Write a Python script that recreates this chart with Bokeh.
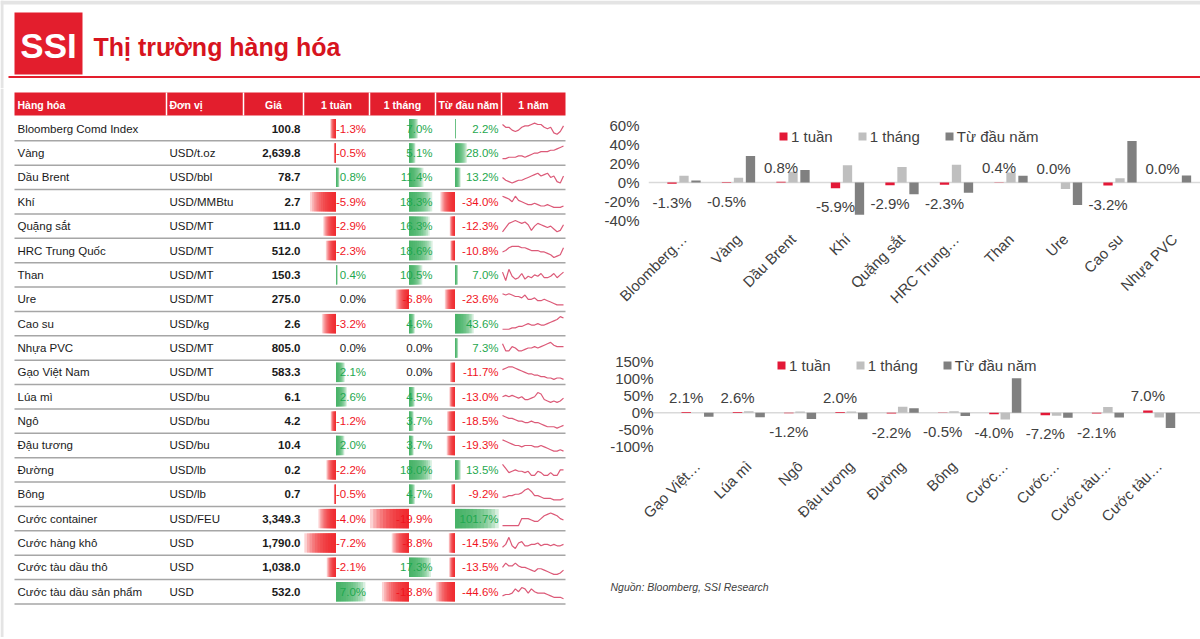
import math
from bokeh.plotting import figure
from bokeh.layouts import column, row
from bokeh.models import (Range1d, ColumnDataSource, Legend, LegendItem,
                          FixedTicker, PrintfTickFormatter, Span)
from bokeh.core.properties import value
from bokeh.embed import file_html
from bokeh.resources import INLINE

FONT = "Liberation Sans"
RED = "#E31E2D"
TITLE_RED = "#D7141E"
BAR_RED = "#F01E23"
BAR_GREEN = "#3DB061"
TXT_RED = "#F0141E"
TXT_GREEN = "#1FA84F"
TXT = "#1A1A1A"
AX_TXT = "#404040"
S_RED = "#E31837"
S_LGRAY = "#BFBFBF"
S_DGRAY = "#808080"

# ---------------- data ----------------
commodities = ["Bloomberg Comd Index", "Vàng", "Dầu Brent", "Khí", "Quặng sắt",
               "HRC Trung Quốc", "Than", "Ure", "Cao su", "Nhựa PVC",
               "Gạo Việt Nam", "Lúa mì", "Ngô", "Đậu tương", "Đường", "Bông",
               "Cước container", "Cước hàng khô", "Cước tàu dầu thô",
               "Cước tàu dầu sản phẩm"]
units = ["", "USD/t.oz", "USD/bbl", "USD/MMBtu", "USD/MT", "USD/MT", "USD/MT",
         "USD/MT", "USD/kg", "USD/MT", "USD/MT", "USD/bu", "USD/bu", "USD/bu",
         "USD/lb", "USD/lb", "USD/FEU", "USD", "USD", "USD"]
prices = [100.8, 2639.8, 78.7, 2.7, 111.0, 512.0, 150.3, 275.0, 2.6, 805.0,
          583.3, 6.1, 4.2, 10.4, 0.2, 0.7, 3349.3, 1790.0, 1038.0, 532.0]
chg_1w = [-1.3, -0.5, 0.8, -5.9, -2.9, -2.3, 0.4, 0.0, -3.2, 0.0,
          2.1, 2.6, -1.2, 2.0, -2.2, -0.5, -4.0, -7.2, -2.1, 7.0]
chg_1m = [7.0, 5.1, 11.4, 18.3, 16.3, 18.6, 10.5, -6.8, 4.6, 0.0,
          0.0, 4.5, 3.7, 3.7, 18.0, 4.7, -19.9, -8.8, 17.3, -13.8]
chg_ytd = [2.2, 28.0, 13.2, -34.0, -12.3, -10.8, 7.0, -23.6, 43.6, 7.3,
           -11.7, -13.0, -18.5, -19.3, 13.5, -9.2, 101.7, -14.5, -13.5, -44.6]

# 1-year sparklines (relative levels 0..10)
spark_bloomberg = [8, 6, 6, 4, 3, 4, 6, 7, 7, 8, 9, 8, 8, 6, 5, 6, 2, 1, 3, 7]
spark_vang = [1, 1, 2, 2, 2, 3, 3, 2, 3, 4, 5, 5, 6, 6, 6, 7, 7, 8, 9, 10]
spark_brent = [5, 3, 2, 1, 2, 3, 3, 4, 5, 6, 7, 8, 6, 7, 8, 5, 6, 2, 1, 6]
spark_khi = [9, 8, 7, 5, 9, 6, 5, 4, 3, 3, 4, 3, 2, 2, 3, 2, 1, 1, 1, 2]
spark_quang = [1, 4, 7, 8, 9, 8, 7, 8, 6, 2, 5, 7, 6, 5, 4, 5, 3, 1, 2, 6]
spark_hrc = [4, 5, 7, 8, 8, 8, 7, 7, 6, 5, 5, 5, 4, 4, 3, 2, 0, 1, 2, 7]
spark_than = [7, 1, 9, 4, 2, 3, 6, 2, 4, 3, 5, 4, 6, 3, 3, 4, 6, 3, 5, 7]
spark_ure = [9, 8, 9, 8, 7, 7, 6, 8, 5, 5, 6, 4, 4, 5, 4, 3, 2, 1, 1, 1]
spark_caosu = [1, 1, 1, 2, 2, 3, 3, 4, 5, 4, 4, 5, 4, 4, 5, 6, 7, 8, 10, 9]
spark_pvc = [8, 3, 3, 6, 5, 3, 3, 4, 5, 5, 6, 5, 6, 7, 8, 9, 7, 6, 6, 6]
spark_gao = [7, 8, 9, 9, 8, 7, 6, 5, 4, 4, 3, 3, 2, 2, 1, 1, 0, 1, 1, 0]
spark_luami = [5, 6, 5, 6, 5, 4, 5, 3, 3, 4, 5, 8, 7, 3, 2, 1, 2, 1, 2, 4]
spark_ngo = [9, 8, 7, 7, 6, 5, 5, 4, 4, 5, 4, 4, 3, 2, 1, 1, 1, 0, 1, 2]
spark_dautuong = [9, 8, 7, 6, 5, 5, 4, 5, 5, 5, 4, 4, 5, 4, 3, 2, 1, 1, 2, 1]
spark_duong = [9, 6, 3, 4, 5, 4, 4, 3, 4, 1, 1, 4, 3, 1, 1, 3, 1, 1, 5, 5]
spark_bong = [3, 3, 4, 4, 5, 5, 6, 8, 9, 7, 4, 4, 3, 2, 2, 2, 1, 1, 1, 2]
spark_container = [0, 0, 0, 0, 0, 0, 5, 5, 5, 4, 3, 3, 5, 7, 8, 9, 8, 7, 5, 4]
spark_hangkho = [2, 4, 9, 3, 1, 5, 6, 3, 3, 4, 4, 5, 3, 4, 4, 3, 4, 3, 3, 4]
spark_dautho = [5, 8, 6, 6, 8, 6, 5, 5, 4, 3, 2, 4, 4, 3, 2, 1, 0, 0, 1, 3]
spark_dausp = [2, 3, 3, 4, 7, 5, 8, 7, 4, 7, 5, 4, 4, 4, 3, 2, 1, 1, 1, 0]

header_labels = ["Hàng hóa", "Đơn vị", "Giá", "1 tuần", "1 tháng", "Từ đầu năm", "1 năm"]
series_names = ["1 tuần", "1 tháng", "Từ đầu năm"]
axis_labels_top = ["Bloomberg…", "Vàng", "Dầu Brent", "Khí", "Quặng sắt",
                   "HRC Trung…", "Than", "Ure", "Cao su", "Nhựa PVC"]
axis_labels_bottom = ["Gạo Việt…", "Lúa mì", "Ngô", "Đậu tương", "Đường", "Bông",
                      "Cước…", "Cước…", "Cước tàu…", "Cước tàu…"]
yticks_top = [-40, -20, 0, 20, 40, 60]
yticks_bottom = [-100, -50, 0, 50, 100, 150]
title_text = "Thị trường hàng hóa"
logo_text = "SSI"
source_text = "Nguồn: Bloomberg, SSI Research"

sparks = [spark_bloomberg, spark_vang, spark_brent, spark_khi, spark_quang,
          spark_hrc, spark_than, spark_ure, spark_caosu, spark_pvc, spark_gao,
          spark_luami, spark_ngo, spark_dautuong, spark_duong, spark_bong,
          spark_container, spark_hangkho, spark_dautho, spark_dausp]


def blank_fig(w, h, xr, yr):
    p = figure(width=w, height=h, x_range=Range1d(*xr), y_range=Range1d(*yr),
               output_backend="svg", toolbar_location=None,
               x_axis_location=None, y_axis_location=None, min_border=0)
    p.xgrid.visible = False
    p.ygrid.visible = False
    p.outline_line_color = None
    return p


# ---------------- header ----------------
hdr = blank_fig(1200, 88, (0, 1200), (88, 0))
hdr.quad(left=[0], right=[1200], top=[0], bottom=[4], fill_color="#E4E4E4", line_color=None)
hdr.quad(left=[0], right=[3], top=[0], bottom=[88], fill_color="#E4E4E4", line_color=None)
hdr.quad(left=[14], right=[82], top=[12], bottom=[74], fill_color=RED, line_color=None)
hdr.text(x=[48], y=[45], text=[logo_text], text_align="center", text_baseline="middle",
         text_font=value(FONT), text_font_style="bold", text_font_size="35px",
         text_color="white")
hdr.text(x=[93], y=[46], text=[title_text], text_align="left", text_baseline="middle",
         text_font=value(FONT), text_font_style="bold", text_font_size="25px",
         text_color=TITLE_RED)
hdr.segment(x0=[8], y0=[76.5], x1=[1200], y1=[76.5], line_color=RED, line_width=2)

# ---------------- table ----------------
tbl = blank_fig(578, 549, (0, 578), (637, 88))
tbl.quad(left=[0], right=[3], top=[88], bottom=[637], fill_color="#E4E4E4", line_color=None)
col_edges = [14, 166, 243, 303, 369, 435, 501, 565]
HEAD_TOP, HEAD_BOT = 92, 115
ROW_H = 24.37
n = len(commodities)
row_top = [HEAD_BOT + 1 + ROW_H * i for i in range(n)]
row_mid = [t + ROW_H / 2 for t in row_top]

tbl.quad(left=[col_edges[0]], right=[col_edges[-1]], top=[HEAD_TOP], bottom=[HEAD_BOT],
         fill_color=RED, line_color=None)
tbl.segment(x0=col_edges[1:-1], x1=col_edges[1:-1], y0=[HEAD_TOP] * 6, y1=[HEAD_BOT] * 6,
            line_color="white", line_width=1.5)
hx = [col_edges[0] + 3, col_edges[1] + 3] + [(col_edges[k] + col_edges[k + 1]) / 2 for k in range(2, 7)]
halign = ["left", "left"] + ["center"] * 5
for k in range(7):
    tbl.text(x=[hx[k]], y=[(HEAD_TOP + HEAD_BOT) / 2 + 0.5], text=[header_labels[k]],
             text_align=halign[k], text_baseline="middle", text_font=value(FONT),
             text_font_style="bold", text_font_size="10.5px", text_color="white")

# row separators
tbl.segment(x0=[col_edges[0]] * n, x1=[col_edges[-1]] * n,
            y0=[t + ROW_H for t in row_top], y1=[t + ROW_H for t in row_top],
            line_color="#A6A6A6", line_width=1.5)


def databars(vals, axis, sneg, spos, nlayer=12, a=0.2):
    # gradient data bars: stacked translucent layers, all anchored at the axis
    d = dict(left=[], right=[], top=[], bottom=[], color=[])
    for i, v in enumerate(vals):
        if v == 0:
            continue
        length = v * spos if v > 0 else v * sneg
        for k in range(1, nlayer + 1):
            end = axis + length * k / nlayer
            d["left"].append(min(axis, end))
            d["right"].append(max(axis, end))
            d["top"].append(row_top[i] + 2.5)
            d["bottom"].append(row_top[i] + ROW_H - 2.5)
            d["color"].append(BAR_GREEN if v > 0 else BAR_RED)
    return ColumnDataSource(d)


for vals, axis, sneg, spos in [(chg_1w, 335.5, 4.4, 4.2),
                               (chg_1m, 408.5, 1.96, 1.27),
                               (chg_ytd, 454.5, 0.43, 0.43)]:
    tbl.quad(left="left", right="right", top="top", bottom="bottom",
             fill_color="color", fill_alpha=0.2, line_color=None,
             source=databars(vals, axis, sneg, spos))

tsrc = ColumnDataSource(dict(y=row_mid, name=commodities, unit=units,
                             price=[f"{v:,.1f}" for v in prices]))
tbl.text(x=col_edges[0] + 3, y="y", text="name", source=tsrc, text_align="left",
         text_baseline="middle", text_font=value(FONT), text_font_size="11.5px", text_color=TXT)
tbl.text(x=col_edges[1] + 3, y="y", text="unit", source=tsrc, text_align="left",
         text_baseline="middle", text_font=value(FONT), text_font_size="11.5px", text_color=TXT)
tbl.text(x=300, y="y", text="price", source=tsrc, text_align="right",
         text_baseline="middle", text_font=value(FONT), text_font_style="bold",
         text_font_size="11.5px", text_color=TXT)


def pct_color(v):
    return TXT_GREEN if v > 0 else (TXT_RED if v < 0 else TXT)


for vals, xr_ in [(chg_1w, 365.5), (chg_1m, 432), (chg_ytd, 498)]:
    s = ColumnDataSource(dict(y=row_mid, t=[f"{v:.1f}%" for v in vals],
                              c=[pct_color(v) for v in vals]))
    tbl.text(x=xr_, y="y", text="t", text_color="c", source=s, text_align="right",
             text_baseline="middle", text_font=value(FONT), text_font_size="11.5px")

xs, ys = [], []
for i, sp in enumerate(sparks):
    m = len(sp)
    xs.append([502 + j * 61.0 / (m - 1) for j in range(m)])
    ys.append([row_mid[i] + 7 - v * 1.4 for v in sp])
tbl.multi_line(xs=xs, ys=ys, line_color="#DC5A78", line_width=1.2)

# ---------------- bar charts ----------------
COL_X = 578           # page x of the chart column
FRAME_LEFT = 70       # px inside the 622-wide chart column -> frame starts at page x 648
FX = COL_X + FRAME_LEFT


def bar_chart(h, bt, bb, xr, yr, yticks, labels, i0, width, legend_xy, ystand):
    p = figure(width=622, height=h, x_range=Range1d(*xr), y_range=Range1d(*yr),
               output_backend="svg", toolbar_location=None,
               min_border_left=FRAME_LEFT, min_border_right=0, min_border_top=bt,
               min_border_bottom=bb)
    p.xgrid.visible = False
    p.ygrid.visible = False
    p.outline_line_color = None
    p.add_layout(Span(location=0, dimension="width", line_color="#D9D9D9",
                      line_width=1.5, level="underlay"))
    idx = list(range(10))
    rends = []
    for s, (vals, col) in enumerate([(chg_1w, S_RED), (chg_1m, S_LGRAY), (chg_ytd, S_DGRAY)]):
        sub = vals[i0:i0 + 10]
        r = p.vbar(x=[i + (s - 1) * 0.22 for i in idx], top=sub, bottom=0, width=width,
                   fill_color=col, line_color=None)
        rends.append(r)
    sub = chg_1w[i0:i0 + 10]
    pos = [(i - 0.22, v, f"{v:.1f}%") for i, v in zip(idx, sub) if v >= 0]
    neg = [(i - 0.22, v, f"{v:.1f}%") for i, v in zip(idx, sub) if v < 0]
    for grp, base, off in [(pos, "bottom", -6), (neg, "top", 10)]:
        p.text(x=[g[0] for g in grp], y=[g[1] for g in grp], text=[g[2] for g in grp],
               text_align="center", text_baseline=base, y_offset=off,
               text_font=value(FONT), text_font_size="15px", text_color=AX_TXT)
    p.yaxis.ticker = FixedTicker(ticks=yticks)
    p.yaxis.formatter = PrintfTickFormatter(format="%d%%")
    p.xaxis.ticker = FixedTicker(ticks=idx)
    p.xaxis.major_label_overrides = {i: labels[i] for i in idx}
    p.xaxis.major_label_orientation = math.pi / 4
    for ax in (p.xaxis, p.yaxis):
        ax.axis_line_color = None
        ax.major_tick_line_color = None
        ax.minor_tick_line_color = None
        ax.major_tick_out = 0
        ax.major_tick_in = 0
        ax.minor_tick_out = 0
        ax.major_label_text_font = FONT
        ax.major_label_text_font_size = "15px"
        ax.major_label_text_color = AX_TXT
    p.yaxis.major_label_standoff = ystand
    p.xaxis.major_label_standoff = 8
    leg = Legend(items=[LegendItem(label=series_names[k], renderers=[rends[k]]) for k in range(3)],
                 location=legend_xy, orientation="horizontal", background_fill_alpha=0,
                 border_line_alpha=0, glyph_width=10, glyph_height=10, label_standoff=3,
                 spacing=24, padding=0, margin=0, label_text_font=FONT,
                 label_text_font_size="15px", label_text_color=AX_TXT, label_height=18)
    p.add_layout(leg)
    return p


# top chart: page frame x 648..1200, category pitch 54.5 starting at 683.5
top_chart = bar_chart(235, 30, 95, ((FX - 683.5) / 54.5, (1200 - 683.5) / 54.5),
                      (-48.4, 67.4), yticks_top, axis_labels_top, 0, 0.171, (130, 83), 9)
# bottom chart: page frame x 648..1200, category pitch 51.3 starting at 697
bot_chart = bar_chart(245, 32, 113, ((FX - 697) / 51.3, (1200 - 697) / 51.3),
                      (-125.6, 168.5), yticks_bottom, axis_labels_bottom, 10, 0.185, (128, 81), -5)

src = blank_fig(622, 69, (578, 1200), (637, 568))
src.text(x=[610], y=[586], text=[source_text], text_align="left", text_baseline="middle",
         text_font=value(FONT), text_font_style="italic", text_font_size="10.5px",
         text_color=AX_TXT)

layout = column(hdr, row(tbl, column(top_chart, bot_chart, row(src))))
open("out.html", "w").write(file_html(layout, INLINE))
